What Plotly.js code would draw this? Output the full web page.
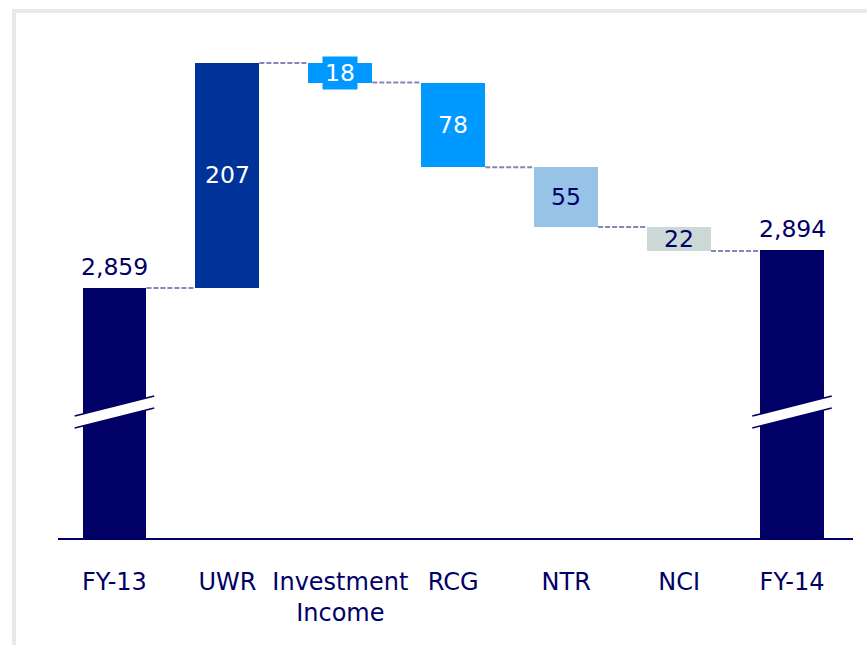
<!DOCTYPE html>
<html>
<head>
<meta charset="utf-8">
<script src="https://cdn.plot.ly/plotly-3.0.1.min.js"></script>
<style>
  html, body { margin:0; padding:0; background:#ffffff; }
  #frame { position:absolute; left:12px; top:9px; width:900px; height:700px;
           border-left:4px solid #e6eae9; border-top:4px solid #e6eae9; }
  #chart { position:absolute; left:0; top:0; width:867px; height:645px; }
</style>
</head>
<body>
<div id="frame"></div>
<div id="chart"></div>
<script>
// ---- data ----
const categories = ["FY-13", "UWR", "Investment<br>Income", "RCG", "NTR", "NCI", "FY-14"];
const kinds      = ["total", "delta", "delta", "delta", "delta", "delta", "total"];
const values     = [2859, 207, -18, -78, -55, -22, 2894];
const labels     = ["2,859", "207", "18", "78", "55", "22", "2,894"];
const barColors  = ["#000066", "#003399", "#0099ff", "#0099ff", "#96c3e6", "#ccd8d5", "#000066"];
const textColors = ["#000066", "#ffffff", "#ffffff", "#ffffff", "#000066", "#000066", "#000066"];

// ---- derived bases / tops ----
const idx = categories.map((_, i) => i);
const bases = [], heights = [], ends = [];
let running = 0;
values.forEach((v, i) => {
  if (kinds[i] === "total") { bases.push(0); heights.push(v); running = v; }
  else { bases.push(running); heights.push(v); running = running + v; }
  ends.push(running);
});

const yMin = 2629, yMax = 3105.5;
const barW = 0.566;
const navy = "#000066";
const FONT = "DejaVu Sans, Verdana, sans-serif";

const trace = {
  type: "bar",
  x: idx,
  y: heights,
  base: bases,
  width: barW,
  marker: { color: barColors, line: { width: 0 } },
  hoverinfo: "skip",
  showlegend: false
};

const shapes = [];
// connectors
for (let i = 0; i < idx.length - 1; i++) {
  const lvl = ends[i];
  shapes.push({
    type: "line", xref: "x", yref: "y",
    x0: idx[i] + barW / 2, x1: idx[i + 1] - barW / 2,
    y0: lvl, y1: lvl,
    line: { color: "#8585b8", width: 2, dash: "5px,2px" }
  });
}
// axis break marks on total bars
idx.forEach(i => {
  if (kinds[i] !== "total") return;
  const xl = i - 0.352, xr = i + 0.352;
  const tl = 2741.2, tr = 2759.6, bl = 2730.2, br = 2748.6;
  shapes.push({
    type: "path", xref: "x", yref: "y",
    path: `M ${xl} ${tl} L ${xr} ${tr} L ${xr} ${br} L ${xl} ${bl} Z`,
    fillcolor: "#ffffff", line: { width: 0 }
  });
  shapes.push({ type: "line", xref: "x", yref: "y", x0: xl, x1: xr, y0: tl, y1: tr,
    line: { color: navy, width: 1.6 } });
  shapes.push({ type: "line", xref: "x", yref: "y", x0: xl, x1: xr, y0: bl, y1: br,
    line: { color: navy, width: 1.6 } });
});

// value labels
const annotations = idx.map(i => {
  const f = { family: FONT, size: 23.5, color: textColors[i] };
  if (kinds[i] === "total") {
    return { x: idx[i], y: ends[i], xref: "x", yref: "y", text: labels[i], showarrow: false,
      yanchor: "bottom", yshift: 5, font: f };
  }
  const mid = bases[i] + heights[i] / 2;
  const a = { x: idx[i], y: mid, xref: "x", yref: "y", text: labels[i], showarrow: false,
    yanchor: "middle", font: f };
  if (Math.abs(heights[i]) < 20) { a.bgcolor = barColors[i]; a.borderpad = 2; }
  return a;
});

const layout = {
  width: 867, height: 645,
  margin: { l: 57.5, r: 14, t: 20, b: 107 },
  paper_bgcolor: "rgba(0,0,0,0)",
  plot_bgcolor: "rgba(0,0,0,0)",
  bargap: 0,
  xaxis: {
    range: [-0.5, 6.54],
    tickvals: idx, ticktext: categories,
    showgrid: false, zeroline: false,
    showline: true, linecolor: navy, linewidth: 2,
    ticks: "", ticklabelstandoff: 21,
    tickfont: { family: FONT, size: 24, color: navy },
    fixedrange: true
  },
  yaxis: { range: [yMin, yMax], visible: false, fixedrange: true },
  shapes: shapes,
  annotations: annotations
};

Plotly.newPlot("chart", [trace], layout, { displayModeBar: false, staticPlot: true });
</script>
</body>
</html>
